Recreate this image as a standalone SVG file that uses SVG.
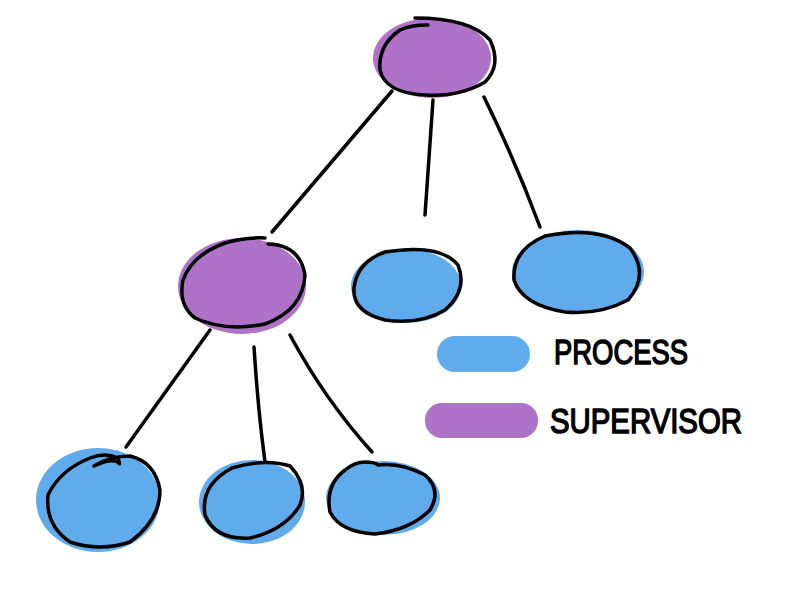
<svg xmlns="http://www.w3.org/2000/svg" width="800" height="602" viewBox="0 0 800 602">
<style>
.sup{fill:#ae72c9}
.proc{fill:#60abeb}
.ink{fill:none;stroke:#000;stroke-width:3.5;stroke-linecap:round;stroke-linejoin:round}
.lbl{font-family:"Liberation Sans",Arial,sans-serif;font-size:35px;fill:#000;stroke:#000;stroke-width:1.5}
</style>
<rect width="800" height="602" fill="#fff"/>
<g id="connectors" class="ink">
<path d="M392,91 L272,232"/>
<path d="M433,100 L425,215"/>
<path d="M484,97 Q515,160 540,227"/>
<path d="M210,330 L126,447"/>
<path d="M254,347 Q258,410 265,462"/>
<path d="M290,335 Q325,400 372,452"/>
</g>
<g id="root">
<ellipse class="sup" cx="432" cy="58" rx="59" ry="40"/>
<path class="ink" d="M415,18 Q470,18 490,40 Q502,65 485,82 Q460,97 425,95 Q385,93 380,70 Q378,45 400,30 Q410,25 428,25"/>
</g>
<g id="supervisor2">
<ellipse class="sup" cx="242" cy="286" rx="64" ry="48"/>
<path class="ink" d="M268,244 Q300,245 305,275 Q303,310 265,324 Q225,332 195,318 Q178,305 183,280 Q192,255 225,243 Q245,237 265,238"/>
</g>
<g id="processA">
<ellipse class="proc" cx="406" cy="286" rx="55" ry="37"/>
<path class="ink" d="M385,252 Q440,243 458,265 Q468,290 445,310 Q420,325 385,320 Q352,312 354,288 Q357,262 385,252"/>
</g>
<g id="processB">
<ellipse class="proc" cx="578" cy="272" rx="66" ry="42"/>
<path class="ink" d="M545,236 Q600,225 630,248 Q650,275 628,300 Q600,315 565,312 Q522,305 514,280 Q512,250 545,236"/>
</g>
<g id="leaf1">
<ellipse class="proc" cx="98" cy="500" rx="62" ry="52"/>
<path class="ink" d="M94,466 Q110,458 118,462 Q121,467 118,458 Q105,452 90,458 Q60,470 48,495 Q45,525 70,542 Q100,552 130,542 Q160,520 160,490 Q155,462 130,456 Q110,456 94,466"/>
</g>
<g id="leaf2">
<ellipse class="proc" cx="252" cy="502" rx="53" ry="42"/>
<path class="ink" d="M232,468 Q265,458 290,466 Q308,485 300,505 Q285,530 250,538 Q215,540 205,515 Q200,485 232,468"/>
</g>
<g id="leaf3">
<ellipse class="proc" cx="383" cy="498" rx="57" ry="37"/>
<path class="ink" d="M365,462 Q375,462 378,465 Q400,462 425,475 Q442,490 430,510 Q410,530 375,534 Q340,532 330,512 Q325,485 345,470 Q355,462 365,462"/>
</g>
<g id="legend">
<rect class="proc" x="437" y="336" width="93" height="36" rx="18"/>
<text class="lbl" x="554" y="364" textLength="134" lengthAdjust="spacingAndGlyphs">PROCESS</text>
<rect class="sup" x="425" y="403" width="113" height="35" rx="17"/>
<text class="lbl" x="550" y="433" textLength="192" lengthAdjust="spacingAndGlyphs">SUPERVISOR</text>
</g>
</svg>
